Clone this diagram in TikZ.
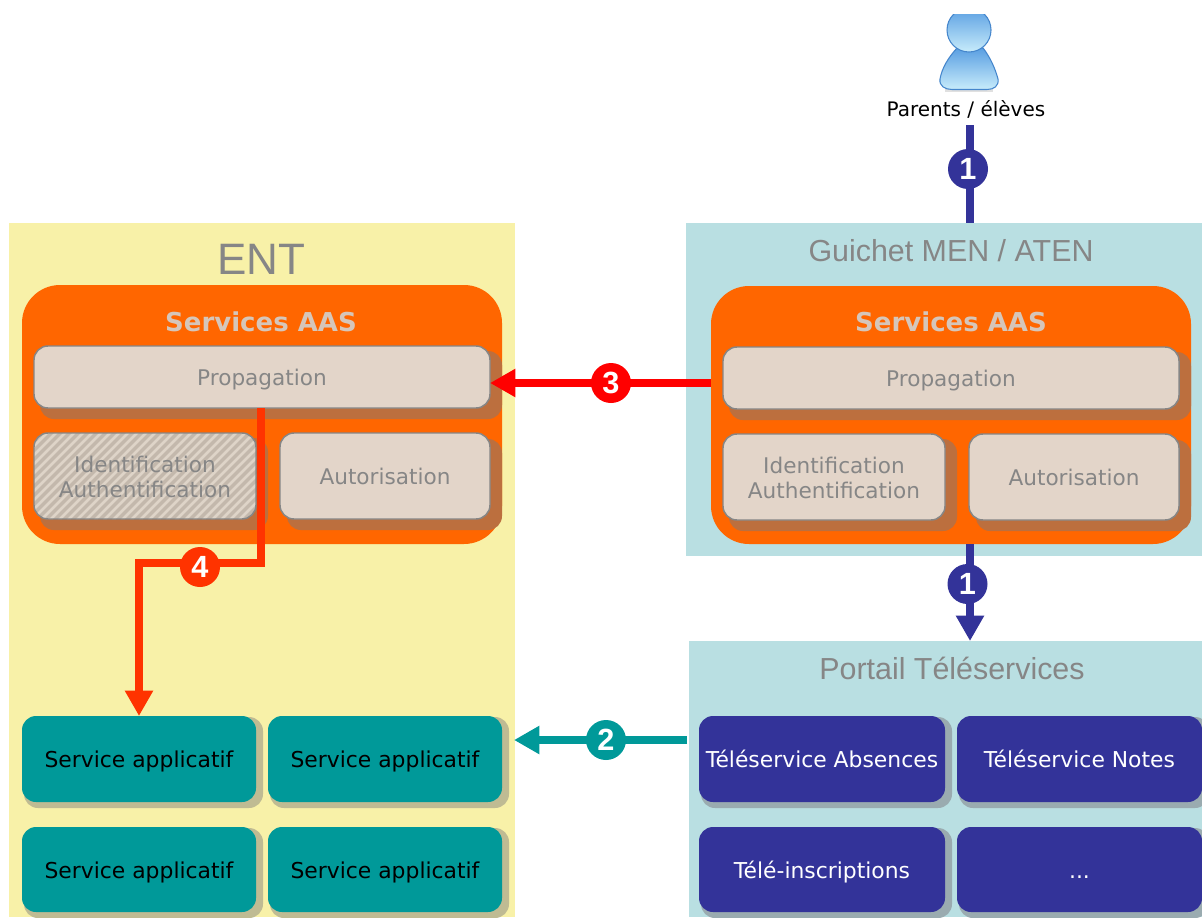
\documentclass[tikz,border=0pt]{standalone}
\usepackage{fontspec}
\setmainfont{DejaVu Sans}
\newfontfamily\arialf{Liberation Sans}
\usetikzlibrary{arrows.meta,calc}
\definecolor{entbg}{HTML}{F8F1A8}
\definecolor{aqua}{HTML}{B9DFE2}
\definecolor{orng}{HTML}{FF6600}
\definecolor{orshadow}{HTML}{BC6F3E}
\definecolor{beige}{HTML}{E3D5C9}
\definecolor{greyt}{HTML}{868686}
\definecolor{teal2}{HTML}{009999}
\definecolor{navy2}{HTML}{333399}
\definecolor{redo}{HTML}{FF3300}
\definecolor{titlet}{HTML}{D6C6BA}
\definecolor{shy}{HTML}{BFBB93}
\definecolor{shb}{HTML}{9AABB0}
\definecolor{hatcha}{HTML}{C3B8AC}
\definecolor{hatchb}{HTML}{DED4C8}
\definecolor{icontop}{HTML}{5A9FE2}
\definecolor{iconbot}{HTML}{C8ECFB}
\definecolor{iconrim}{HTML}{4586CC}
\newcommand{\fs}[1]{\fontsize{#1}{#1}\selectfont}
\tikzset{
  x=0.75pt,y=-0.75pt,
  base/.style={inner sep=0pt,outer sep=0pt,rounded corners=10.5pt,align=center},
  aasbox/.style={base,draw=greyt,line width=1.1pt,fill=beige,text=greyt,font=\fs{16.2},text height=15.6pt,text depth=3pt},
  twoline/.style={base,draw=greyt,line width=1.1pt,text=greyt,font=\fs{16.2}},
  svcbox/.style={base,fill=teal2,text=black,font=\fs{16.4},text height=16pt,text depth=3pt},
  telebox/.style={base,fill=navy2,text=white,font=\fs{16.4},text height=16pt,text depth=3pt},
  zone/.style={inner sep=0pt,outer sep=0pt},
  aas/.style={inner sep=0pt,outer sep=0pt,fill=orng,rounded corners=28.5pt},
  titlelbl/.style={inner sep=0pt,text=greyt,font=\arialf\fs{22.8}},
  aaslbl/.style={inner sep=0pt,text=titlet,font=\bfseries\fs{19.5}},
  badge/.style={circle,fill=#1,text=white,inner sep=0pt,minimum size=30pt,font=\arialf\bfseries\fs{23}},
  conn/.style={line width=6pt,draw=#1},
  arr/.style={line width=6pt,draw=#1,-{Triangle[length=19pt,width=20pt]}},
}
\newcommand{\ubox}[7]{% name, x1,y1,x2,y2, style, text
  \pgfmathsetmacro{\uw}{(#4-#2)*0.75}\pgfmathsetmacro{\uh}{(#5-#3)*0.75}
  \pgfmathsetmacro{\ux}{(#2+#4)/2}\pgfmathsetmacro{\uy}{(#3+#5)/2}
  \node[#6,minimum width=\uw pt,minimum height=\uh pt] (#1) at (\ux,\uy) {#7};
}
% shadow of a box: x1,y1,x2,y2, left/top inset, right/bottom outset, colour
\newcommand{\ushad}[7]{%
  \fill[#7,rounded corners=10.5pt] ({#1+#5},{#2+#5-1}) rectangle ({#3+#6},{#4+#6-1});
}
\begin{document}
\begin{tikzpicture}
\useasboundingbox (0,0) rectangle (1202,917);
\fill[white] (0,0) rectangle (1202,917);
% zones
\ubox{ent}{9}{223}{515}{917}{zone,fill=entbg}{}
\ubox{guichet}{686}{223}{1202}{556}{zone,fill=aqua}{}
\ubox{portail}{689}{641}{1202}{917}{zone,fill=aqua}{}
\node[inner sep=0pt,text=greyt,font=\arialf\fs{33}] (entt) at (261,259) {ENT};
\node[titlelbl] (guit) at (951,251) {Guichet MEN / ATEN};
\node[titlelbl] (port) at (952,668) {Portail Téléservices};
% AAS left
\ubox{aasL}{22}{285}{502}{544}{aas}{}
\node[aaslbl] (aasLt) at (261,322) {Services AAS};
\ushad{34}{346}{490}{408}{6}{12}{orshadow}
\ubox{propL}{34}{346}{490}{408}{aasbox}{Propagation}
\ushad{34}{433}{256}{519}{6}{12}{orshadow}
\begin{scope}
  \clip[rounded corners=10.5pt] (34,433) rectangle (256,519);
  \fill[hatcha] (34,433) rectangle (256,519);
  \foreach \i in {-72,-63,...,270}{
    \draw[hatchb,line width=1.9pt] (\i,525) -- ++(100,-100);
  }
\end{scope}
\ubox{idL}{34}{433}{256}{519}{twoline}{\rule{0pt}{13.6pt}Identification\\[2.6pt]Authentification}
\ushad{280}{433}{490}{519}{7}{12}{orshadow}
\ubox{autL}{280}{433}{490}{519}{aasbox}{Autorisation}
% AAS right
\ubox{aasR}{711}{286}{1191}{544}{aas}{}
\node[aaslbl] (aasRt) at (951,322) {Services AAS};
\ushad{723}{347}{1179}{409}{6}{12}{orshadow}
\ubox{propR}{723}{347}{1179}{409}{aasbox}{Propagation}
\ushad{723}{434}{945}{520}{6}{12}{orshadow}
\ubox{idR}{723}{434}{945}{520}{twoline,fill=beige}{\rule{0pt}{13.6pt}Identification\\[2.6pt]Authentification}
\ushad{969}{434}{1179}{520}{7}{12}{orshadow}
\ubox{autR}{969}{434}{1179}{520}{aasbox}{Autorisation}
% services
\ushad{22}{716}{256}{802}{2}{7}{shy}
\ushad{268}{716}{502}{802}{2}{7}{shy}
\ushad{22}{827}{256}{912}{2}{7}{shy}
\ushad{268}{827}{502}{912}{2}{7}{shy}
\ubox{s1}{22}{716}{256}{802}{svcbox}{Service applicatif}
\ubox{s2}{268}{716}{502}{802}{svcbox}{Service applicatif}
\ubox{s3}{22}{827}{256}{912}{svcbox}{Service applicatif}
\ubox{s4}{268}{827}{502}{912}{svcbox}{Service applicatif}
% teleservices
\ushad{699}{716}{945}{802}{2}{7}{shb}
\ushad{957}{716}{1202}{802}{2}{7}{shb}
\ushad{699}{827}{945}{912}{2}{7}{shb}
\ushad{957}{827}{1202}{912}{2}{7}{shb}
\ubox{t1}{699}{716}{945}{802}{telebox}{Téléservice Absences}
\ubox{t2}{957}{716}{1202}{802}{telebox}{Téléservice Notes}
\ubox{t3}{699}{827}{945}{912}{telebox}{Télé-inscriptions}
\ubox{t4}{957}{827}{1202}{912}{telebox}{...}
% person icon
\begin{scope}
  \clip (930,15) rectangle (1010,95);
  \fill[black!12] (945,88) rectangle (993,92);
  \shade[top color=icontop,bottom color=iconbot,draw=iconrim,line width=.8pt]
    (957,48) .. controls (948,58) and (942,68) .. (940,79)
    .. controls (939,86) and (945,89.5) .. (952,89.5) -- (987,89.5)
    .. controls (994,89.5) and (999,86) .. (998,79)
    .. controls (995,68) and (990,57) .. (983,48) -- cycle;
  \shade[top color=icontop,bottom color=iconbot,draw=iconrim,line width=.8pt]
    (969,30) circle [radius=22pt*0.75];
\end{scope}
\node[inner sep=0pt,text=black,font=\fs{15}] (par) at (966,109) {Parents / élèves};
\coordinate (par1) at (970,125);
\coordinate (g1) at (970,223);
\coordinate (g2) at (970,544);
\coordinate (p1) at (970,641);
\coordinate (a3s) at (711,383);
\coordinate (a3e) at (490,383);
\coordinate (a2s) at (687,740);
\coordinate (a2e) at (514,740);
\coordinate (a4s) at (261,408);
\coordinate (a4m) at (139,563);
\coordinate (a4e) at (139,716);
% connectors
\draw[conn=navy2] (par1) -- (g1);
\draw[arr=navy2] (g2) -- (p1);
\draw[arr={red}] (a3s) -- (a3e);
\draw[arr=teal2] (a2s) -- (a2e);
\draw[arr=redo] (a4s) |- (a4m) -- (a4e);
% badges
\node[badge=navy2] (b1a) at (968,169) {1};
\node[badge=navy2] (b1b) at (967.5,584) {1};
\node[badge=red] (b3) at (611,383) {3};
\node[badge=teal2] (b2) at (606,740) {2};
\node[badge=redo] (b4) at (200,567) {4};
\end{tikzpicture}
\end{document}
